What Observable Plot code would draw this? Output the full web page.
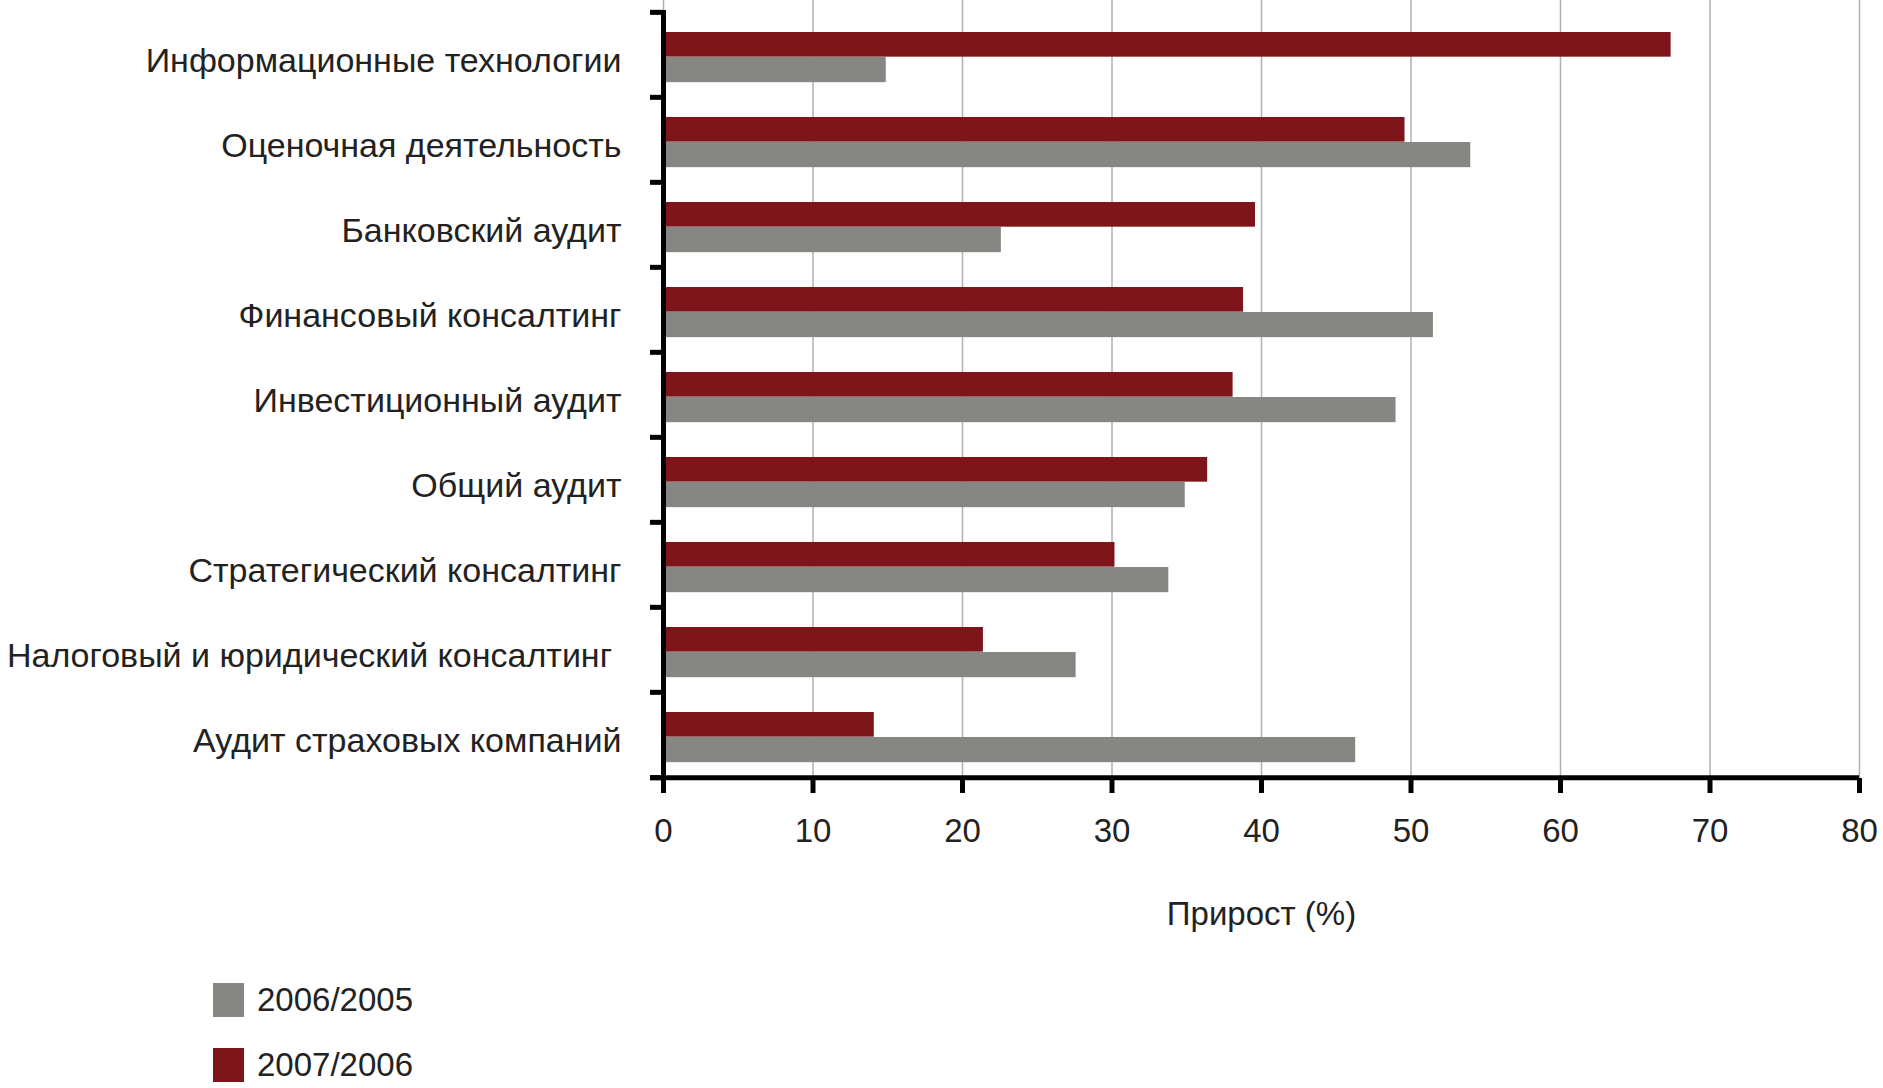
<!DOCTYPE html>
<html>
<head>
<meta charset="utf-8">
<script src="https://cdn.jsdelivr.net/npm/d3@7"></script>
<script src="https://cdn.jsdelivr.net/npm/@observablehq/plot@0.6"></script>
<style>
  html, body { margin: 0; padding: 0; background: #fff; }
  #chart svg { display: block; }
  #legend { font-family: "Liberation Sans", Arial, sans-serif; font-size: 33px; color: #222; padding-left: 213px; padding-top: 33px; }
  .row { display: flex; align-items: center; height: 34px; margin-bottom: 31px; }
  .sw { width: 31px; height: 34px; margin-right: 13px; }
</style>
</head>
<body>
<div id="chart"></div>
<div id="legend"></div>
<script>
const categories = [
  "Информационные технологии",
  "Оценочная деятельность",
  "Банковский аудит",
  "Финансовый консалтинг",
  "Инвестиционный аудит",
  "Общий аудит",
  "Стратегический консалтинг",
  "Налоговый и юридический консалтинг\u00a0",
  "Аудит страховых компаний"
];
const series = ["2006/2005", "2007/2006"];
const colors = ["#868683", "#7e151b"];
const values2007 = [67.4, 49.6, 39.6, 38.8, 38.1, 36.4, 30.2, 21.4, 14.1];
const values2006 = [14.9, 54.0, 22.6, 51.5, 49.0, 34.9, 33.8, 27.6, 46.3];
const xTicks = [0, 10, 20, 30, 40, 50, 60, 70, 80];
const xLabel = "Прирост (%)";

const data2007 = categories.map((c, i) => ({category: c, value: values2007[i], series: series[1]}));
const data2006 = categories.map((c, i) => ({category: c, value: values2006[i], series: series[0]}));

const W = 1883, H = 950, mTop = 0, mBottom = 172, insetTop = 10;
const bw = (H - mTop - mBottom - insetTop) / categories.length;

const chart = Plot.plot({
  width: W,
  height: H,
  marginLeft: 663,
  marginRight: 24,
  marginTop: mTop,
  marginBottom: mBottom,
  style: {fontFamily: "'Liberation Sans', Arial, sans-serif", color: "#222", background: "#fff"},
  x: {domain: [0, 80]},
  y: {domain: categories, type: "band", paddingInner: 0, paddingOuter: 0, insetTop: insetTop},
  marks: [
    Plot.gridX(xTicks, {stroke: "#b0b0b0", strokeOpacity: 1, strokeWidth: 1.5}),
    Plot.barX(data2007, {x: "value", y: "category", fill: colors[1], insetTop: 20, insetBottom: bw - 45}),
    Plot.barX(data2006, {x: "value", y: "category", fill: colors[0], insetTop: 45, insetBottom: bw - 70.5}),
    Plot.ruleX([0], {stroke: "#000", strokeWidth: 5, insetTop: insetTop}),
    Plot.ruleY([categories[categories.length - 1]], {dy: bw / 2, stroke: "#000", strokeWidth: 5, insetLeft: -13}),
    Plot.axisY({ticks: categories, tickSize: 13, tickFormat: () => "", dy: -bw / 2, stroke: "#000", strokeWidth: 5, label: null}),
    Plot.axisY({ticks: [categories[categories.length - 1]], tickSize: 13, tickFormat: () => "", dy: bw / 2, stroke: "#000", strokeWidth: 5, label: null}),
    Plot.axisY({tickSize: 0, tickPadding: 42, fontSize: 34, label: null, fill: "#222", dy: 6}),
    Plot.axisX({ticks: xTicks, tickSize: 15, tickPadding: 25, stroke: "#000", strokeWidth: 5, fontSize: 33, fill: "#222",
      label: xLabel, labelAnchor: "center", labelArrow: false, labelOffset: 146})
  ]
});
document.getElementById("chart").appendChild(chart);

const legend = document.getElementById("legend");
series.forEach((s, i) => {
  const row = document.createElement("div");
  row.className = "row";
  const sw = document.createElement("div");
  sw.className = "sw";
  sw.style.background = colors[i];
  const t = document.createElement("span");
  t.textContent = s;
  row.appendChild(sw);
  row.appendChild(t);
  legend.appendChild(row);
});
</script>
</body>
</html>
